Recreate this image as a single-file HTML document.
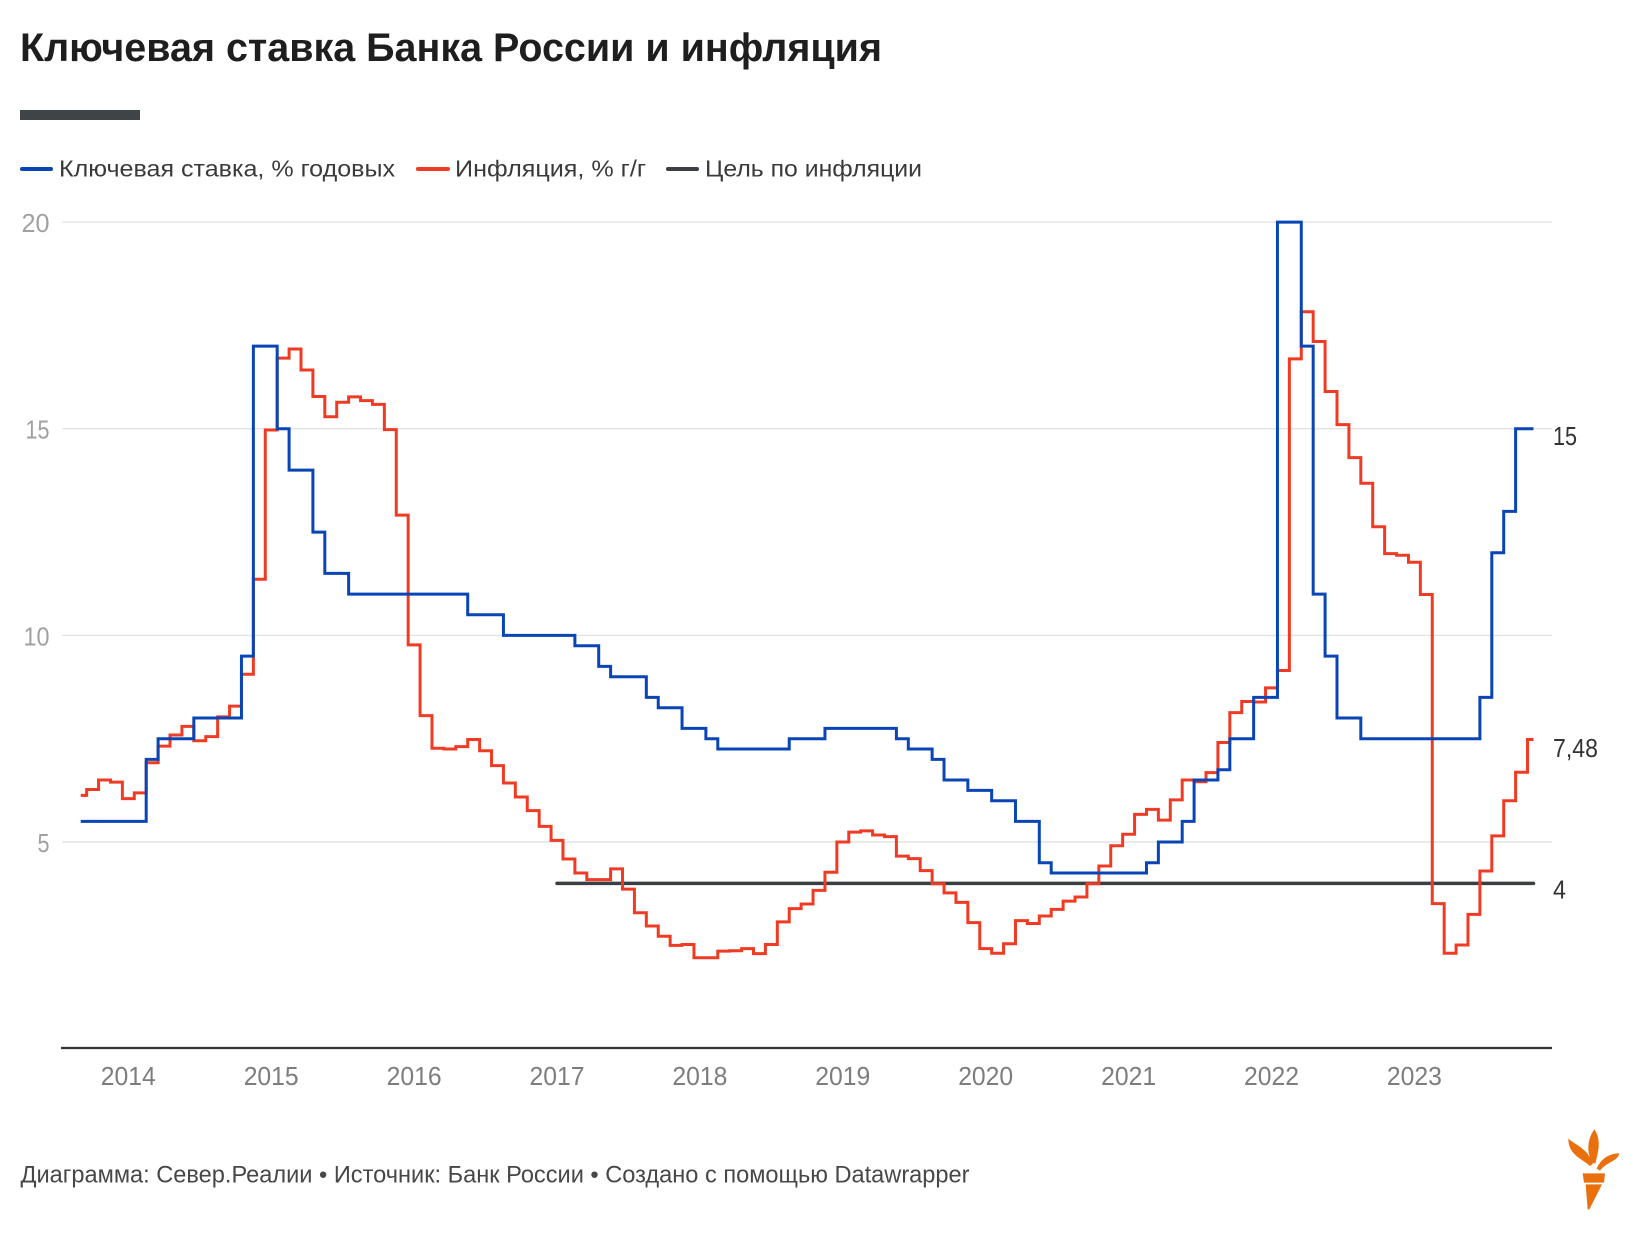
<!DOCTYPE html>
<html>
<head>
<meta charset="utf-8">
<style>
  html, body { margin: 0; padding: 0; background: #ffffff; }
  svg { display: block; }
  text { font-family: "Liberation Sans", "Noto Sans CJK SC", sans-serif; }
</style>
</head>
<body>
<svg width="1640" height="1240" viewBox="0 0 1640 1240" xmlns="http://www.w3.org/2000/svg">
  <rect x="0" y="0" width="1640" height="1240" fill="#ffffff"/>

  <!-- Title -->
  <text x="20" y="61" font-size="40" font-weight="bold" fill="#1e1e1e" textLength="862" lengthAdjust="spacingAndGlyphs">Ключевая ставка Банка России и инфляция</text>

  <!-- Dark bar -->
  <rect x="20" y="110" width="120" height="10" fill="#3f4447"/>

  <!-- Legend -->
  <line x1="22" y1="169" x2="51" y2="169" stroke="#0a45b5" stroke-width="4" stroke-linecap="round"/>
  <text x="59" y="176.5" font-size="23" fill="#3a3a3a" textLength="336" lengthAdjust="spacingAndGlyphs">Ключевая ставка, % годовых</text>
  <line x1="418" y1="169" x2="448" y2="169" stroke="#ef3b24" stroke-width="4" stroke-linecap="round"/>
  <text x="455" y="176.5" font-size="23" fill="#3a3a3a" textLength="191" lengthAdjust="spacingAndGlyphs">Инфляция, % г/г</text>
  <line x1="668" y1="169" x2="697" y2="169" stroke="#3a3f44" stroke-width="4" stroke-linecap="round"/>
  <text x="705" y="176.5" font-size="23" fill="#3a3a3a" textLength="217" lengthAdjust="spacingAndGlyphs">Цель по инфляции</text>

  <!-- Grid lines -->
  <g stroke="#e4e4e4" stroke-width="1.4">
    <line x1="62" y1="222.1" x2="1552" y2="222.1"/>
    <line x1="62" y1="428.7" x2="1552" y2="428.7"/>
    <line x1="62" y1="635.4" x2="1552" y2="635.4"/>
    <line x1="62" y1="842" x2="1552" y2="842"/>
  </g>

  <!-- Y labels -->
  <g font-size="26" fill="#a0a0a0" text-anchor="end">
    <text x="49.5" y="232" textLength="28" lengthAdjust="spacingAndGlyphs">20</text>
    <text x="49.5" y="438.7" textLength="24" lengthAdjust="spacingAndGlyphs">15</text>
    <text x="49.5" y="645.4" textLength="26" lengthAdjust="spacingAndGlyphs">10</text>
    <text x="49.5" y="852" textLength="12" lengthAdjust="spacingAndGlyphs">5</text>
  </g>

  <!-- Axis line -->
  <line x1="61" y1="1048" x2="1552" y2="1048" stroke="#333333" stroke-width="2.2"/>

  <!-- X labels -->
  <g font-size="26" fill="#7d7d7d" text-anchor="middle">
    <text x="128.3" y="1085" textLength="55" lengthAdjust="spacingAndGlyphs">2014</text>
    <text x="271.2" y="1085" textLength="55" lengthAdjust="spacingAndGlyphs">2015</text>
    <text x="414.1" y="1085" textLength="55" lengthAdjust="spacingAndGlyphs">2016</text>
    <text x="557" y="1085" textLength="55" lengthAdjust="spacingAndGlyphs">2017</text>
    <text x="699.9" y="1085" textLength="55" lengthAdjust="spacingAndGlyphs">2018</text>
    <text x="842.8" y="1085" textLength="55" lengthAdjust="spacingAndGlyphs">2019</text>
    <text x="985.7" y="1085" textLength="55" lengthAdjust="spacingAndGlyphs">2020</text>
    <text x="1128.6" y="1085" textLength="55" lengthAdjust="spacingAndGlyphs">2021</text>
    <text x="1271.5" y="1085" textLength="55" lengthAdjust="spacingAndGlyphs">2022</text>
    <text x="1414.4" y="1085" textLength="55" lengthAdjust="spacingAndGlyphs">2023</text>
  </g>

  <!-- Series (month-index space) -->
  <g transform="translate(80.7,1048.7) scale(11.908,-41.33)" fill="none">
    <path vector-effect="non-scaling-stroke" stroke="#3a3f44" stroke-width="3.6" stroke-linecap="round" d="M40,4 H122"/>
    <path vector-effect="non-scaling-stroke" stroke="#ef3b24" stroke-width="3" stroke-linejoin="miter" d="M0,6.13 H0.5 V6.27 H1.5 V6.5 H2.5 V6.45 H3.5 V6.05 H4.5 V6.19 H5.5 V6.92 H6.5 V7.32 H7.5 V7.59 H8.5 V7.8 H9.5 V7.45 H10.5 V7.55 H11.5 V8.03 H12.5 V8.29 H13.5 V9.06 H14.5 V11.36 H15.5 V14.97 H16.5 V16.71 H17.5 V16.93 H18.5 V16.42 H19.5 V15.78 H20.5 V15.29 H21.5 V15.64 H22.5 V15.77 H23.5 V15.68 H24.5 V15.59 H25.5 V14.98 H26.5 V12.91 H27.5 V9.77 H28.5 V8.06 H29.5 V7.27 H30.5 V7.25 H31.5 V7.31 H32.5 V7.48 H33.5 V7.21 H34.5 V6.85 H35.5 V6.43 H36.5 V6.09 H37.5 V5.76 H38.5 V5.38 H39.5 V5.04 H40.5 V4.59 H41.5 V4.25 H42.5 V4.09 H44.5 V4.35 H45.5 V3.86 H46.5 V3.29 H47.5 V2.97 H48.5 V2.72 H49.5 V2.50 H50.5 V2.52 H51.5 V2.20 H53.5 V2.36 H54.5 V2.37 H55.5 V2.42 H56.5 V2.30 H57.5 V2.52 H58.5 V3.07 H59.5 V3.39 H60.5 V3.50 H61.5 V3.83 H62.5 V4.27 H63.5 V5.00 H64.5 V5.24 H65.5 V5.27 H66.5 V5.17 H67.5 V5.13 H68.5 V4.66 H69.5 V4.60 H70.5 V4.31 H71.5 V3.99 H72.5 V3.77 H73.5 V3.54 H74.5 V3.05 H75.5 V2.42 H76.5 V2.31 H77.5 V2.54 H78.5 V3.10 H79.5 V3.03 H80.5 V3.21 H81.5 V3.37 H82.5 V3.57 H83.5 V3.67 H84.5 V3.99 H85.5 V4.42 H86.5 V4.91 H87.5 V5.19 H88.5 V5.67 H89.5 V5.79 H90.5 V5.53 H91.5 V6.02 H92.5 V6.50 H93.5 V6.46 H94.5 V6.68 H95.5 V7.41 H96.5 V8.13 H97.5 V8.40 H98.5 V8.39 H99.5 V8.73 H100.5 V9.15 H101.5 V16.69 H102.5 V17.83 H103.5 V17.11 H104.5 V15.90 H105.5 V15.10 H106.5 V14.30 H107.5 V13.68 H108.5 V12.63 H109.5 V11.98 H110.5 V11.94 H111.5 V11.77 H112.5 V10.99 H113.5 V3.51 H114.5 V2.31 H115.5 V2.51 H116.5 V3.25 H117.5 V4.30 H118.5 V5.15 H119.5 V6.00 H120.5 V6.69 H121.5 V7.48 H122"/>
    <path vector-effect="non-scaling-stroke" stroke="#0a45b5" stroke-width="3" stroke-linejoin="miter" d="M0,5.5 H5.5 V7 H6.5 V7.5 H9.5 V8 H13.5 V9.5 H14.5 V17 H16.5 V15 H17.5 V14 H19.5 V12.5 H20.5 V11.5 H22.5 V11 H32.5 V10.5 H35.5 V10 H41.5 V9.75 H43.5 V9.25 H44.5 V9 H47.5 V8.5 H48.5 V8.25 H50.5 V7.75 H52.5 V7.5 H53.5 V7.25 H59.5 V7.5 H62.5 V7.75 H68.5 V7.5 H69.5 V7.25 H71.5 V7 H72.5 V6.5 H74.5 V6.25 H76.5 V6 H78.5 V5.5 H80.5 V4.5 H81.5 V4.25 H89.5 V4.5 H90.5 V5 H92.5 V5.5 H93.5 V6.5 H95.5 V6.75 H96.5 V7.5 H98.5 V8.5 H100.5 V20 H102.5 V17 H103.5 V11 H104.5 V9.5 H105.5 V8 H107.5 V7.5 H117.5 V8.5 H118.5 V12 H119.5 V13 H120.5 V15 H122"/>
  </g>

  <!-- End labels -->
  <g font-size="26" fill="#333333">
    <text x="1553" y="445" textLength="24" lengthAdjust="spacingAndGlyphs">15</text>
    <text x="1553" y="757" textLength="45" lengthAdjust="spacingAndGlyphs">7,48</text>
    <text x="1553" y="898.5" textLength="13" lengthAdjust="spacingAndGlyphs">4</text>
  </g>

  <!-- Footer -->
  <text x="20.5" y="1182.5" font-size="24" fill="#474747" textLength="949" lengthAdjust="spacingAndGlyphs">Диаграмма: Север.Реалии • Источник: Банк России • Создано с помощью Datawrapper</text>

  <!-- Logo (torch) -->
  <g transform="translate(1540,1120) scale(0.3333)" fill="#ea6f0d">
    <path d="M85,56 C105,75 145,85 158,132 L150,138 C125,115 85,105 85,56 Z"/>
    <path d="M163,28 C185,60 175,95 166,130 L158,130 C140,100 140,60 163,28 Z"/>
    <path d="M238,100 C232,125 200,125 180,152 L170,146 C185,110 215,100 238,100 Z"/>
    <path d="M128,160 L195,160 L192,188 L132,188 Z"/>
    <path d="M137,193 L186,193 L148,268 L143,268 Z"/>
  </g>
</svg>
</body>
</html>
